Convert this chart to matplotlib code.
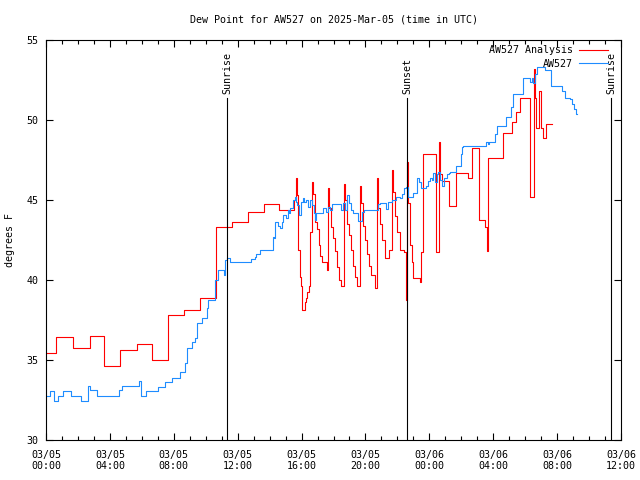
import matplotlib
matplotlib.use("Agg")
import matplotlib.pyplot as plt

# hours since 2025-03-05 00:00 UTC
analysis_hours = [0.00, 0.63, 1.69, 2.76, 3.63, 4.63, 5.70, 6.64, 7.64, 8.64, 9.64, 10.65,
                  11.65, 12.65, 13.65, 14.59, 15.53, 15.66, 15.72, 15.78, 15.91, 15.97, 16.03,
                  16.22, 16.28, 16.34, 16.47, 16.53, 16.66, 16.72, 16.84, 16.97, 17.10, 17.16,
                  17.28, 17.60, 17.66, 17.72, 17.85, 17.97, 18.10, 18.22, 18.35, 18.47, 18.66,
                  18.72, 18.85, 18.97, 19.10, 19.22, 19.35, 19.47, 19.66, 19.72, 19.85, 19.98,
                  20.10, 20.23, 20.35, 20.60, 20.73, 20.79, 20.91, 21.04, 21.23, 21.48, 21.67,
                  21.73, 21.85, 21.98, 22.17, 22.42, 22.54, 22.61, 22.67, 22.79, 22.92, 22.98,
                  23.42, 23.48, 23.61, 24.42, 24.61, 24.67, 24.80, 25.24, 25.67, 26.43, 26.68,
                  27.11, 27.49, 27.62, 27.68, 28.62, 29.18, 29.43, 29.68, 30.31, 30.56, 30.62,
                  30.68, 30.87, 31.00, 31.12, 31.31, 31.69]
analysis_dewpt = [35.45, 36.45, 35.75, 36.5, 34.6, 35.6, 36.0, 35.0, 37.8, 38.1, 38.9, 43.3,
                  43.6, 44.25, 44.75, 44.4, 45.0, 46.4, 45.3, 41.9, 40.2, 39.6, 38.1,
                  38.6, 38.9, 39.25, 39.6, 43.0, 46.1, 45.4, 43.6, 43.2, 42.2, 41.5,
                  41.1, 40.6, 45.75, 44.5, 43.3, 42.6, 41.8, 40.8, 40.0, 39.6, 46.0,
                  45.0, 43.5, 42.8, 41.9, 40.9, 40.2, 39.6, 45.9, 44.8, 43.4, 42.5,
                  41.6, 40.9, 40.3, 39.5, 46.4, 44.5, 43.5, 42.5, 41.4, 41.9, 46.9,
                  45.5, 44.0, 43.0, 41.9, 41.75, 38.75, 47.4, 44.8, 42.2, 41.1, 40.1,
                  39.9, 41.75, 47.9, 41.75, 48.6, 46.6, 46.2, 44.6, 46.7, 46.4, 48.25,
                  43.75, 43.3, 41.8, 47.6, 49.2, 49.9, 50.5, 51.4, 45.2, 53.2, 51.4,
                  49.5, 51.8, 49.5, 48.9, 49.75, 49.75]

station_hours = [0.00, 0.25, 0.50, 0.75, 1.06, 1.57, 2.19, 2.63, 2.76, 3.19, 4.57, 4.76, 5.82,
                 5.95, 6.26, 7.01, 7.45, 7.89, 8.39, 8.70, 8.83, 9.14, 9.33, 9.46, 9.77, 10.08,
                 10.14, 10.58, 10.77, 11.15, 11.21, 11.33, 11.52, 12.84, 13.09, 13.15, 13.40,
                 14.21, 14.28, 14.34, 14.53, 14.65, 14.78, 14.84, 15.03, 15.15, 15.22, 15.28,
                 15.47, 15.59, 15.65, 15.72, 15.84, 15.97, 16.09, 16.16, 16.28, 16.41, 16.53,
                 16.66, 16.78, 16.84, 16.91, 17.35, 17.53, 17.66, 17.78, 17.91, 18.47, 18.60,
                 18.72, 18.85, 18.97, 19.10, 19.22, 19.54, 19.79, 19.91, 20.79, 20.91, 21.29,
                 21.42, 21.67, 21.92, 22.17, 22.29, 22.42, 22.54, 22.67, 22.98, 23.23, 23.36,
                 23.48, 23.79, 23.92, 24.05, 24.17, 24.23, 24.36, 24.48, 24.55, 24.67, 24.80,
                 24.92, 25.11, 25.24, 25.30, 25.67, 25.99, 26.05, 26.11, 27.55, 27.68, 27.74,
                 28.12, 28.24, 28.81, 29.12, 29.24, 29.87, 30.31, 30.43, 30.50, 30.62, 30.75,
                 31.25, 31.62, 32.31, 32.50, 32.81, 32.94, 33.06, 33.19, 33.25]
station_dewpt = [32.75, 33.05, 32.45, 32.75, 33.05, 32.75, 32.45, 33.4, 33.1, 32.75, 33.1, 33.4, 33.7,
                 32.75, 33.05, 33.3, 33.6, 33.9, 34.25, 34.8, 35.75, 36.1, 36.4, 37.3, 37.6, 38.25,
                 38.75, 40.0, 40.6, 40.3, 41.25, 41.4, 41.1, 41.3, 41.45, 41.6, 41.9,
                 42.7, 42.6, 43.6, 43.4, 43.25, 43.6, 44.05, 43.9, 44.4, 44.2, 44.5,
                 45.0, 45.2, 44.85, 44.7, 44.05, 44.85, 45.1, 44.85, 45.0, 44.55, 45.0,
                 44.7, 44.2, 43.75, 44.2, 44.5, 44.25, 44.55, 44.4, 44.75, 44.4, 44.8,
                 44.4, 45.3, 44.8, 44.4, 44.2, 43.7, 44.25, 44.4, 44.75, 44.8, 44.45,
                 44.9, 45.0, 45.2, 45.1, 45.4, 45.75, 45.8, 45.2, 45.45, 46.4, 46.1,
                 45.75, 45.9, 46.2, 46.4, 46.25, 46.7, 46.1, 46.6, 46.75, 46.25, 45.9,
                 46.4, 46.6, 46.7, 46.75, 47.1, 47.9, 48.3, 48.4, 48.6, 48.5, 48.6,
                 49.1, 49.6, 50.2, 50.8, 51.6, 52.6, 52.4, 52.6, 52.3, 52.9, 53.3,
                 53.1, 52.1, 51.8, 51.4, 51.3, 51.0, 50.7, 50.4, 50.4]

sun_hours = [11.33, 22.61, 35.38]
sun_labels = ["Sunrise", "Sunset", "Sunrise"]

tick_hours = [0, 4, 8, 12, 16, 20, 24, 28, 32, 36]
tick_labels = ["03/05\n00:00", "03/05\n04:00", "03/05\n08:00", "03/05\n12:00", "03/05\n16:00",
               "03/05\n20:00", "03/06\n00:00", "03/06\n04:00", "03/06\n08:00", "03/06\n12:00"]

plt.rcParams['font.family'] = ['DejaVu Sans Mono']
plt.rcParams['font.size'] = 7.2

fig = plt.figure(figsize=(6.4, 4.8), dpi=100)
ax = fig.add_axes([46 / 640, 40 / 480, 575 / 640, 400 / 480])

ax.plot(analysis_hours, analysis_dewpt, drawstyle='steps-post', color='#ff0000', lw=0.8,
        label='AW527 Analysis')
ax.plot(station_hours, station_dewpt, drawstyle='steps-post', color='#1e8cff', lw=0.8,
        label='AW527')

for h, lab in zip(sun_hours, sun_labels):
    ax.plot([h, h], [30, 51.35], color='black', lw=0.8)
    ax.text(h, 51.6, lab, rotation=90, ha='center', va='bottom')

ax.set_xlim(0, 36)
ax.set_ylim(30, 55)
ax.set_xticks(tick_hours)
ax.set_xticklabels(tick_labels)
ax.set_xticks(range(0, 37), minor=True)
ax.set_yticks([30, 35, 40, 45, 50, 55])
ax.tick_params(which='major', direction='in', length=5, width=0.8, top=True, right=True)
ax.tick_params(which='minor', direction='in', length=3, width=0.8, top=True, right=False,
               left=False)
ax.tick_params(axis='x', pad=7)
ax.tick_params(axis='y', pad=5.5)
for s in ax.spines.values():
    s.set_linewidth(0.8)

ax.legend(loc='upper right', markerfirst=False, frameon=False, handlelength=2.9,
          labelspacing=0.35, handletextpad=0.6, borderaxespad=0.2,
          bbox_to_anchor=(0.988, 1.002))

fig.text(334 / 640, 1 - 19 / 480, "Dew Point for AW527 on 2025-Mar-05 (time in UTC)",
         ha='center', va='center')
fig.text(10 / 640, 0.5, "degrees F", rotation=90, ha='center', va='center')

fig.savefig("out.png", dpi=100)
